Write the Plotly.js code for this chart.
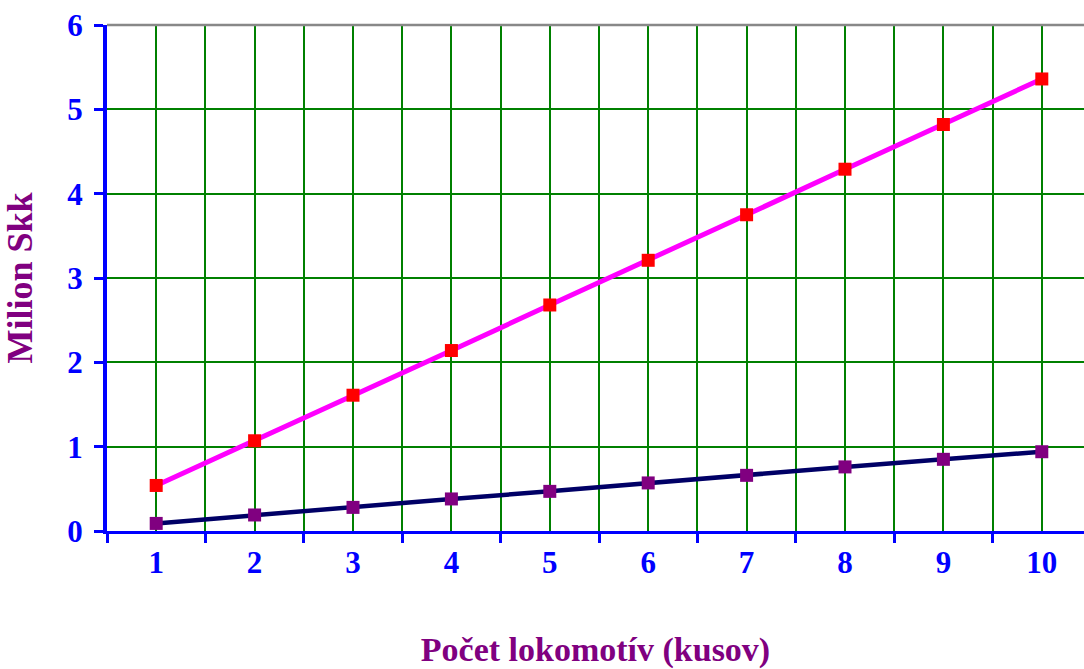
<!DOCTYPE html>
<html>
<head>
<meta charset="utf-8">
<script src="https://cdn.plot.ly/plotly-3.0.1.min.js"></script>
<style>html,body{margin:0;padding:0;background:#fff;}#chart{width:1084px;height:669px;}</style>
</head>
<body>
<div id="chart"></div>
<script>
const categories = [1, 2, 3, 4, 5, 6, 7, 8, 9, 10];
const seriesUpper = [0.54, 1.07, 1.61, 2.14, 2.68, 3.21, 3.75, 4.29, 4.82, 5.36];
const seriesLower = [0.09, 0.19, 0.28, 0.38, 0.47, 0.57, 0.66, 0.76, 0.85, 0.94];
const yTickValues = [0, 1, 2, 3, 4, 5, 6];
const xTitle = "Počet lokomotív (kusov)";
const yTitle = "Milion Skk";

const boundaries = categories.map(c => c - 0.5).concat([categories[categories.length - 1] + 0.5]);
const serif = "Liberation Serif";

const traces = [
  {
    x: categories, y: seriesUpper, type: "scatter", mode: "lines+markers",
    line: {color: "#FF00FF", width: 5},
    marker: {symbol: "square", size: 13, color: "#FF0000"},
    showlegend: false, hoverinfo: "x+y"
  },
  {
    x: categories, y: seriesLower, type: "scatter", mode: "lines+markers",
    line: {color: "#000066", width: 4.5},
    marker: {symbol: "square", size: 13, color: "#800080"},
    showlegend: false, hoverinfo: "x+y"
  }
];

const layout = {
  width: 1084, height: 669,
  margin: {l: 107, r: 0, t: 25, b: 138},
  paper_bgcolor: "#ffffff", plot_bgcolor: "#ffffff",
  xaxis: {
    range: [0.5, 0.5 + 977 / 98.4],
    tickmode: "array", tickvals: categories, ticktext: categories.map(String),
    ticks: "", tickfont: {family: serif, size: 31, color: "#0000FF", weight: "bold"},
    showgrid: true, gridcolor: "#008000", gridwidth: 2,
    zeroline: false,
    showline: true, linecolor: "#0000FF", linewidth: 3,
    minor: {tickmode: "array", tickvals: boundaries, ticks: "outside", ticklen: 9, tickwidth: 3, tickcolor: "#0000FF", showgrid: true, gridcolor: "#008000", gridwidth: 2},
    ticklabelstandoff: 2,
    title: {text: xTitle, font: {family: serif, size: 34, color: "#800080", weight: "bold"}, standoff: 60},
    fixedrange: true
  },
  yaxis: {
    range: [0, 6],
    tickmode: "array", tickvals: yTickValues, ticktext: yTickValues.map(String),
    ticks: "outside", ticklen: 9, tickwidth: 3, tickcolor: "#0000FF",
    tickfont: {family: serif, size: 31, color: "#0000FF", weight: "bold"},
    showgrid: true, gridcolor: "#008000", gridwidth: 2,
    zeroline: false,
    showline: true, linecolor: "#0000FF", linewidth: 4,
    ticklabelstandoff: 5,
    title: {text: yTitle, font: {family: serif, size: 36, color: "#800080", weight: "bold"}, standoff: 28},
    fixedrange: true
  },
  shapes: [
    {type: "line", xref: "paper", yref: "paper", x0: 0, x1: 1, y0: 1, y1: 1, line: {color: "#888888", width: 2.5}, layer: "above"}
  ]
};

Plotly.newPlot("chart", traces, layout, {displayModeBar: false, staticPlot: true});
</script>
</body>
</html>
